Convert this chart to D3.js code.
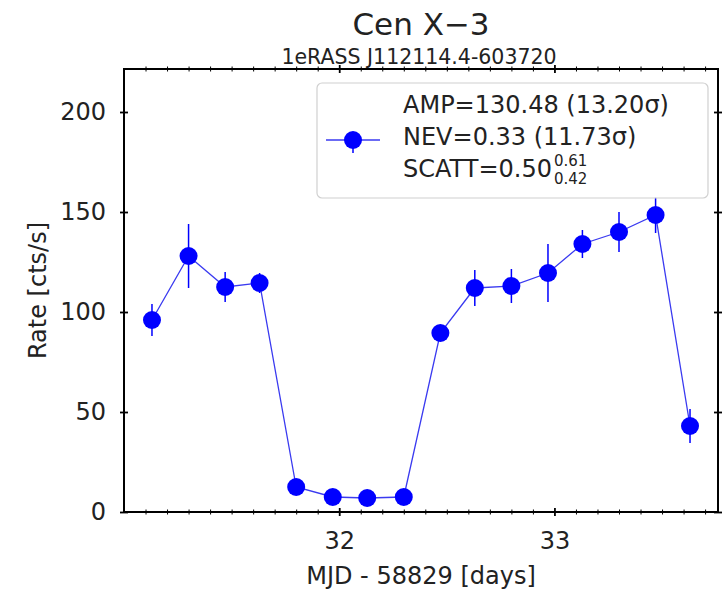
<!DOCTYPE html>
<html lang="en">
<head>
    <meta charset="UTF-8">
    <title>Cen X-3 light curve</title>
    <script src="https://d3js.org/d3.v7.min.js"></script>
    <style>
        body { margin: 0; background: #fff; }
        text { font-family: "DejaVu Sans", sans-serif; }
    </style>
</head>
<body>
    <div id="chart"></div>
    <script>
        // light curve data
        var times = [31.13, 31.30, 31.47, 31.63, 31.80, 31.97, 32.13, 32.30,
                     32.47, 32.63, 32.80, 32.97, 33.13, 33.30, 33.47, 33.63];
        var rates = [96, 128, 112.5, 114.5, 12.5, 7.5, 7, 7.5,
                     89.5, 112, 113, 119.5, 134, 140, 148.5, 43];
        var errors = [8, 16, 7.5, 5, 2, 1, 1, 1,
                      4, 9, 8.5, 14.5, 7, 10, 9, 8.5];
        var yTicks = [0, 50, 100, 150, 200];
        var xTicks = [32, 33];
        var legendLines = ["AMP=130.48 (13.20σ)", "NEV=0.33 (11.73σ)"];

        var W = 723, H = 589;
        var margin = { top: 69, right: 5, bottom: 77, left: 124 },
            width = W - margin.left - margin.right,
            height = H - margin.top - margin.bottom;

        var svg = d3.select("#chart")
            .append("svg")
            .attr("width", W)
            .attr("height", H);

        var g = svg.append("g")
            .attr("transform", "translate(" + margin.left + "," + margin.top + ")");

        var x = d3.scaleLinear().domain([31.0, 33.76]).range([0, width]);
        var y = d3.scaleLinear().domain([0, 221.5]).range([height, 0]);

        var data = times.map(function(t, i) {
            return { t: t, r: rates[i], e: errors[i] };
        });

        var blue = "#0000ff";

        // connecting line
        g.append("path")
            .datum(data)
            .attr("fill", "none")
            .attr("stroke", "#3a3af0")
            .attr("stroke-width", 1.3)
            .attr("d", d3.line().x(d => x(d.t)).y(d => y(d.r)));

        // error bars
        g.append("g")
            .selectAll("line")
            .data(data)
            .enter()
            .append("line")
            .attr("x1", d => x(d.t))
            .attr("x2", d => x(d.t))
            .attr("y1", d => y(d.r - d.e))
            .attr("y2", d => y(d.r + d.e))
            .attr("stroke", blue)
            .attr("stroke-width", 1.5);

        // markers
        g.append("g")
            .selectAll("circle")
            .data(data)
            .enter()
            .append("circle")
            .attr("cx", d => x(d.t))
            .attr("cy", d => y(d.r))
            .attr("r", 9)
            .attr("fill", blue);

        // axes, ticks "inout" on all four sides
        function styleAxis(sel, major, minorLen, vertical) {
            sel.select(".domain").remove();
            sel.selectAll(".tick line").each(function(d) {
                var isMajor = major.indexOf(d) >= 0;
                var len = isMajor ? 4 : minorLen;
                var l = d3.select(this).attr("stroke", "#000").attr("stroke-width", isMajor ? 1.8 : 1);
                if (vertical) l.attr("x1", -len).attr("x2", len);
                else l.attr("y1", -len).attr("y2", len);
            });
            sel.selectAll(".tick text").each(function(d) {
                if (major.indexOf(d) < 0) d3.select(this).remove();
            });
        }

        var xAll = d3.range(31.1, 33.76, 0.1).map(v => Math.round(v * 10) / 10);

        var xb = g.append("g")
            .attr("transform", "translate(0," + height + ")")
            .call(d3.axisBottom(x).tickValues(xAll).tickFormat(d3.format("d")).tickPadding(14));
        styleAxis(xb, xTicks, 2.5, false);
        xb.selectAll(".tick text").attr("font-size", "24px").attr("fill", "#222");

        var xt = g.append("g")
            .call(d3.axisTop(x).tickValues(xAll).tickFormat(""));
        styleAxis(xt, xTicks, 2.5, false);

        var yl = g.append("g")
            .call(d3.axisLeft(y).tickValues(yTicks).tickPadding(12));
        styleAxis(yl, yTicks, 4, true);
        yl.selectAll(".tick text").attr("font-size", "24px").attr("fill", "#222");

        var yr = g.append("g")
            .attr("transform", "translate(" + width + ",0)")
            .call(d3.axisRight(y).tickValues(yTicks).tickFormat(""));
        styleAxis(yr, yTicks, 4, true);

        // frame
        g.append("rect")
            .attr("width", width)
            .attr("height", height)
            .attr("fill", "none")
            .attr("stroke", "#000")
            .attr("stroke-width", 2);

        // legend
        var lg = svg.append("g").attr("transform", "translate(317,83)");
        lg.append("rect")
            .attr("width", 391)
            .attr("height", 115)
            .attr("rx", 5)
            .attr("fill", "rgba(255,255,255,0.85)")
            .attr("stroke", "#d0d0d0")
            .attr("stroke-width", 1.2);
        lg.append("line")
            .attr("x1", 9).attr("x2", 63).attr("y1", 57).attr("y2", 57)
            .attr("stroke", "#3a3af0").attr("stroke-width", 1.3);
        lg.append("line")
            .attr("x1", 36).attr("x2", 36).attr("y1", 49).attr("y2", 70)
            .attr("stroke", blue).attr("stroke-width", 1.5);
        lg.append("circle")
            .attr("cx", 36).attr("cy", 57).attr("r", 9).attr("fill", blue);

        lg.selectAll("text.line")
            .data(legendLines)
            .enter()
            .append("text")
            .attr("class", "line")
            .attr("x", 86)
            .attr("y", (d, i) => 30 + i * 32)
            .attr("font-size", "24px")
            .attr("fill", "#222")
            .text(d => d);

        var sc = lg.append("text")
            .attr("x", 86)
            .attr("y", 94)
            .attr("font-size", "24px")
            .attr("fill", "#222");
        sc.append("tspan").text("SCATT=0.50");
        var scW = sc.node().getComputedTextLength();
        lg.append("text")
            .attr("x", 86 + scW + 2).attr("y", 83)
            .attr("font-size", "15px").attr("fill", "#222")
            .text("0.61");
        lg.append("text")
            .attr("x", 86 + scW + 2).attr("y", 101)
            .attr("font-size", "15px").attr("fill", "#222")
            .text("0.42");

        // titles and axis labels
        var cx = margin.left + width / 2;
        svg.append("text")
            .attr("x", cx).attr("y", 35)
            .attr("text-anchor", "middle")
            .attr("font-size", "31px")
            .attr("fill", "#222")
            .text("Cen X\u22123");
        svg.append("text")
            .attr("x", cx - 2).attr("y", 64)
            .attr("text-anchor", "middle")
            .attr("font-size", "20.5px")
            .attr("fill", "#222")
            .text("1eRASS J112114.4-603720");
        svg.append("text")
            .attr("x", cx).attr("y", 584)
            .attr("text-anchor", "middle")
            .attr("font-size", "24px")
            .attr("fill", "#222")
            .text("MJD - 58829 [days]");
        svg.append("text")
            .attr("transform", "translate(46," + (margin.top + height / 2) + ") rotate(-90)")
            .attr("text-anchor", "middle")
            .attr("font-size", "24px")
            .attr("fill", "#222")
            .text("Rate [cts/s]");
    </script>
</body>
</html>
